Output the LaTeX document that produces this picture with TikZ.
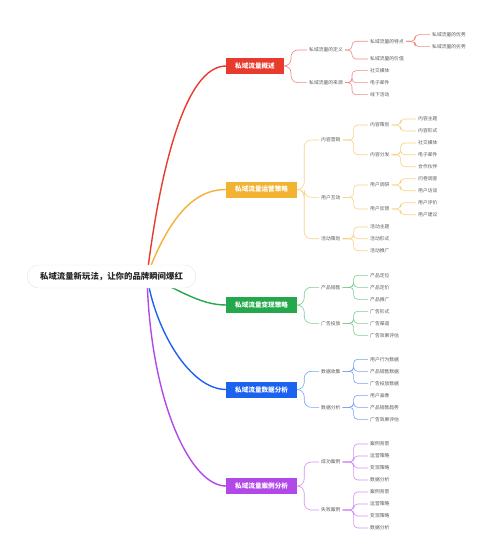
\documentclass[tikz,border=0pt]{standalone}
\usepackage{fontspec}
\setmainfont{Noto Sans CJK SC}
\usepackage{tikz}
\usetikzlibrary{positioning,backgrounds}
\definecolor{ovred}{RGB}{232,58,45}
\definecolor{oporange}{RGB}{242,178,50}
\definecolor{mogreen}{RGB}{36,168,75}
\definecolor{dablue}{RGB}{28,98,240}
\definecolor{capurple}{RGB}{178,72,232}
\definecolor{leaf}{RGB}{90,90,90}

\begin{document}
\begin{tikzpicture}[x=1pt,y=-1pt,
  every node/.style={font=\fontsize{4.8}{5.5}\selectfont, text=leaf},
  rootbox/.style={draw=black!10, fill=white, rounded corners=11.5pt, minimum height=23pt,
                  inner xsep=13pt, text=black!85, font=\fontsize{8.4}{10}\selectfont\bfseries},
  topic/.style={fill=#1, text=white, font=\fontsize{6.6}{8}\selectfont\bfseries,
                minimum height=16pt, inner xsep=9pt, anchor=west},
  sub/.style={anchor=west, inner xsep=2pt, inner ysep=1pt},
  trunk/.style={draw=#1, line width=1.4pt},
  link/.style={draw=#1!60, line width=0.6pt, rounded corners=4pt},
  bigbend/.style={rounded corners=7pt}
]
  \useasboundingbox (0,0) rectangle (500,559);

  % root
  \node[rootbox] (root) at (111.5,276.5) {私域流量新玩法，让你的品牌瞬间爆红};
  \coordinate (hub) at (147,276);

  % main topics
  \node[topic=ovred]    (ov) at (226,66)    {私域流量概述};
  \node[topic=oporange] (op) at (226,189.5) {私域流量运营策略};
  \node[topic=mogreen]  (mo) at (226,305)   {私域流量变现策略};
  \node[topic=dablue]   (da) at (226,389.5) {私域流量数据分析};
  \node[topic=capurple] (ca) at (226,486)   {私域流量案例分析};

  \begin{scope}[on background layer]
    \draw[trunk=ovred]    (hub) .. controls (160,170) and (185,66)    .. (ov.west);
    \draw[trunk=oporange] (hub) .. controls (175,200) and (205,189.5) .. (op.west);
    \draw[trunk=mogreen]  (hub) .. controls (180,290) and (200,305)   .. (mo.west);
    \draw[trunk=dablue]   (hub) .. controls (155,330) and (190,389.5) .. (da.west);
    \draw[trunk=capurple] (hub) .. controls (150,400) and (190,486)   .. (ca.west);
  \end{scope}

  % overview
  \node[sub] (ov1)   at (307,50)   {私域流量的定义};
  \node[sub] (ov2)   at (307,82.7) {私域流量的来源};
  \node[sub] (ov11)  at (368,41.3) {私域流量的特点};
  \node[sub] (ov12)  at (368,59)   {私域流量的价值};
  \node[sub] (ov111) at (430,34.7) {私域流量的优势};
  \node[sub] (ov112) at (430,46.7) {私域流量的劣势};
  \node[sub] (ov21)  at (368,70.7) {社交媒体};
  \node[sub] (ov22)  at (368,82.7) {电子邮件};
  \node[sub] (ov23)  at (368,94.7) {线下活动};

  \foreach \c in {ov1,ov2} \draw[link=ovred,bigbend] (ov.east) -- ++(7,0) |- (\c.west);
  \foreach \c in {ov11,ov12} \draw[link=ovred] (ov1.east) -- ++(7,0) |- (\c.west);
  \foreach \c in {ov21,ov22,ov23} \draw[link=ovred] (ov2.east) -- ++(7,0) |- (\c.west);
  \foreach \c in {ov111,ov112} \draw[link=ovred] (ov11.east) -- ++(9,0) |- (\c.west);

  % operation
  \node[sub] (op1)   at (319,140)   {内容营销};
  \node[sub] (op2)   at (319,197.3) {用户互动};
  \node[sub] (op3)   at (319,238.7) {活动策划};
  \node[sub] (op11)  at (368,125)   {内容策划};
  \node[sub] (op12)  at (368,154.7) {内容分发};
  \node[sub] (op21)  at (368,185)   {用户调研};
  \node[sub] (op22)  at (368,209)   {用户反馈};
  \node[sub] (op31)  at (368,227)   {活动主题};
  \node[sub] (op32)  at (368,238.7) {活动形式};
  \node[sub] (op33)  at (368,250.7) {活动推广};
  \node[sub] (op111) at (416,119)   {内容主题};
  \node[sub] (op112) at (416,131)   {内容形式};
  \node[sub] (op121) at (416,143)   {社交媒体};
  \node[sub] (op122) at (416,154.7) {电子邮件};
  \node[sub] (op123) at (416,166.7) {合作伙伴};
  \node[sub] (op211) at (416,178.7) {问卷调查};
  \node[sub] (op212) at (416,190.7) {用户访谈};
  \node[sub] (op221) at (416,202.7) {用户评价};
  \node[sub] (op222) at (416,214.7) {用户建议};

  \foreach \c in {op1,op2,op3} \draw[link=oporange,bigbend] (op.east) -- ++(7,0) |- (\c.west);
  \foreach \c in {op11,op12} \draw[link=oporange] (op1.east) -- ++(11,0) |- (\c.west);
  \foreach \c in {op21,op22} \draw[link=oporange] (op2.east) -- ++(11,0) |- (\c.west);
  \foreach \c in {op31,op32,op33} \draw[link=oporange] (op3.east) -- ++(11,0) |- (\c.west);
  \foreach \c in {op111,op112} \draw[link=oporange] (op11.east) -- ++(9,0) |- (\c.west);
  \foreach \c in {op121,op122,op123} \draw[link=oporange] (op12.east) -- ++(9,0) |- (\c.west);
  \foreach \c in {op211,op212} \draw[link=oporange] (op21.east) -- ++(9,0) |- (\c.west);
  \foreach \c in {op221,op222} \draw[link=oporange] (op22.east) -- ++(9,0) |- (\c.west);

  % monetization
  \node[sub] (mo1)  at (319,287.3) {产品销售};
  \node[sub] (mo2)  at (319,323.3) {广告投放};
  \node[sub] (mo11) at (368,275.3) {产品定位};
  \node[sub] (mo12) at (368,287.3) {产品定价};
  \node[sub] (mo13) at (368,299.3) {产品推广};
  \node[sub] (mo21) at (368,311.3) {广告形式};
  \node[sub] (mo22) at (368,323.3) {广告渠道};
  \node[sub] (mo23) at (368,335.3) {广告效果评估};

  \foreach \c in {mo1,mo2} \draw[link=mogreen,bigbend] (mo.east) -- ++(7,0) |- (\c.west);
  \foreach \c in {mo11,mo12,mo13} \draw[link=mogreen] (mo1.east) -- ++(11,0) |- (\c.west);
  \foreach \c in {mo21,mo22,mo23} \draw[link=mogreen] (mo2.east) -- ++(11,0) |- (\c.west);

  % data
  \node[sub] (da1)  at (319,371.3) {数据收集};
  \node[sub] (da2)  at (319,407.3) {数据分析};
  \node[sub] (da11) at (368,359.3) {用户行为数据};
  \node[sub] (da12) at (368,371.3) {产品销售数据};
  \node[sub] (da13) at (368,383.3) {广告投放数据};
  \node[sub] (da21) at (368,395.3) {用户画像};
  \node[sub] (da22) at (368,407.3) {产品销售趋势};
  \node[sub] (da23) at (368,419.3) {广告效果评估};

  \foreach \c in {da1,da2} \draw[link=dablue,bigbend] (da.east) -- ++(7,0) |- (\c.west);
  \foreach \c in {da11,da12,da13} \draw[link=dablue] (da1.east) -- ++(11,0) |- (\c.west);
  \foreach \c in {da21,da22,da23} \draw[link=dablue] (da2.east) -- ++(11,0) |- (\c.west);

  % cases
  \node[sub] (ca1)  at (319,462) {成功案例};
  \node[sub] (ca2)  at (319,510) {失败案例};
  \node[sub] (ca11) at (368,444) {案例背景};
  \node[sub] (ca12) at (368,456) {运营策略};
  \node[sub] (ca13) at (368,468) {变现策略};
  \node[sub] (ca14) at (368,480) {数据分析};
  \node[sub] (ca21) at (368,492) {案例背景};
  \node[sub] (ca22) at (368,504) {运营策略};
  \node[sub] (ca23) at (368,516) {变现策略};
  \node[sub] (ca24) at (368,528) {数据分析};

  \foreach \c in {ca1,ca2} \draw[link=capurple,bigbend] (ca.east) -- ++(7,0) |- (\c.west);
  \foreach \c in {ca11,ca12,ca13,ca14} \draw[link=capurple] (ca1.east) -- ++(11,0) |- (\c.west);
  \foreach \c in {ca21,ca22,ca23,ca24} \draw[link=capurple] (ca2.east) -- ++(11,0) |- (\c.west);
\end{tikzpicture}
\end{document}
